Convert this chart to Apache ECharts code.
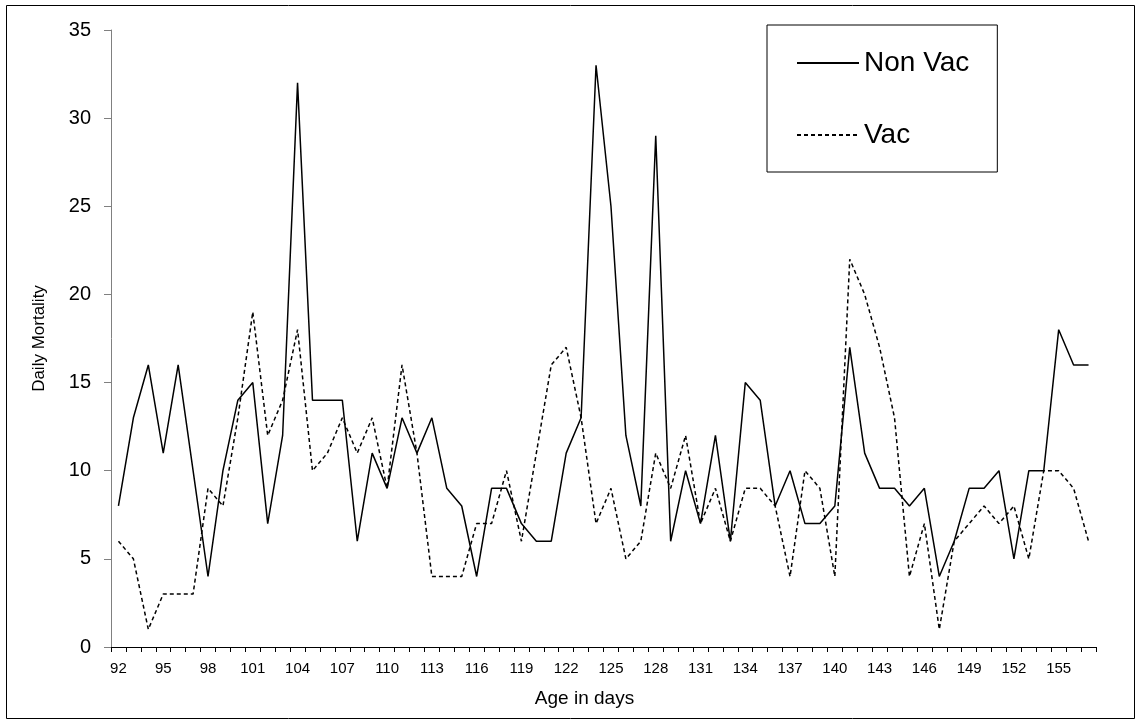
<!DOCTYPE html>
<html>
<head>
<meta charset="utf-8">
<script src="https://cdn.jsdelivr.net/npm/echarts@6/dist/echarts.min.js"></script>
<style>
html,body{margin:0;padding:0;background:#fff;}
#chart{width:1139px;height:727px;}
</style>
</head>
<body>
<div id="chart"></div>
<script>
const days = ['92','93','94','95','96','97','98','99','100','101','102','103','104','105','106','107','108','109','110','111','112','113','114','115','116','117','118','119','120','121','122','123','124','125','126','127','128','129','130','131','132','133','134','135','136','137','138','139','140','141','142','143','144','145','146','147','148','149','150','151','152','153','154','155','156','157'];
const nonVac = [8,13,16,11,16,10,4,10,14,15, 7,12,32,14,14,14,6,11,9,13, 11,13,9,8,4,9,9,7,6,6, 11,13,33,25,12,8,29,6,10,7, 12,6,15,14,8,10,7,7,8,17, 11,9,9,8,9,4,6,9,9,10, 5,10,10,18,16,16];
const vac = [6,5,1,3,3,3,9,8,13,19, 12,14,18,10,11,13,11,13,9,16, 11,4,4,4,7,7,10,6,11,16, 17,13,7,9,5,6,11,9,12,7, 9,6,9,9,8,4,10,9,4,22, 20,17,13,4,7,1,6,7,8,7, 8,5,10,10,9,6];
const seriesNames = ['Non Vac', 'Vac'];
const yTicks = {min: 0, max: 35, interval: 5};

const FONT = '"Liberation Sans", Arial, sans-serif';
const chart = echarts.init(document.getElementById('chart'), null, {renderer: 'canvas'});
chart.setOption({
  animation: false,
  backgroundColor: '#fff',
  textStyle: {fontFamily: FONT, color: '#000'},
  grid: {left: 111, right: 43, top: 30, bottom: 80, containLabel: false},
  graphic: [{
    type: 'rect', shape: {x: 6.5, y: 5.5, width: 1128, height: 713},
    style: {fill: null, stroke: '#000', lineWidth: 1}, silent: true
  }],
  legend: {
    orient: 'vertical', left: 767, top: 25,
    padding: [24, 28, 23, 29],
    itemWidth: 62, itemHeight: 28, itemGap: 44,
    borderColor: '#000', borderWidth: 1,
    itemStyle: {opacity: 0, borderWidth: 0},
    textStyle: {fontFamily: FONT, fontSize: 28, color: '#000', lineHeight: 28},
    data: seriesNames
  },
  xAxis: {
    type: 'category', data: days, boundaryGap: true,
    name: 'Age in days', nameLocation: 'middle', nameGap: 42,
    nameTextStyle: {fontFamily: FONT, fontSize: 19, color: '#000', padding: [0, 38, 0, 0]},
    axisLine: {lineStyle: {color: '#000', width: 1}},
    axisTick: {show: true, interval: 0, length: 5, lineStyle: {color: '#000'}},
    axisLabel: {interval: 2, fontFamily: FONT, fontSize: 15, color: '#000', margin: 14},
    splitLine: {show: false}
  },
  yAxis: {
    type: 'value', min: yTicks.min, max: yTicks.max, interval: yTicks.interval,
    name: 'Daily Mortality', nameLocation: 'middle', nameGap: 63, nameRotate: 90,
    nameTextStyle: {fontFamily: FONT, fontSize: 17, color: '#000'},
    axisLine: {show: true, lineStyle: {color: '#808080', width: 1}},
    axisTick: {show: true, length: 7, lineStyle: {color: '#808080'}},
    axisLabel: {fontFamily: FONT, fontSize: 20, color: '#000', margin: 20},
    splitLine: {show: false}
  },
  series: [
    {name: seriesNames[0], type: 'line', data: nonVac, symbol: 'none',
     lineStyle: {color: '#000', width: 1.5, type: 'solid'}, itemStyle: {color: '#000'}},
    {name: seriesNames[1], type: 'line', data: vac, symbol: 'none',
     lineStyle: {color: '#000', width: 1.5, type: [4, 3]}, itemStyle: {color: '#000'}}
  ]
});
</script>
</body>
</html>
